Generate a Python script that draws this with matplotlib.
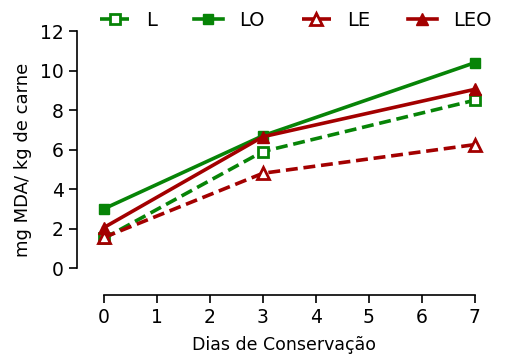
import matplotlib
matplotlib.use('Agg')
import matplotlib.pyplot as plt

days = [0, 3, 7]
l_vals = [1.5, 5.9, 8.5]
lo_vals = [3.0, 6.7, 10.4]
le_vals = [1.55, 4.8, 6.25]
leo_vals = [2.05, 6.65, 9.05]

xticks = [0, 1, 2, 3, 4, 5, 6, 7]
yticks = [0, 2, 4, 6, 8, 10, 12]

green = '#078407'
red = '#a30000'

plt.rcParams['font.family'] = ['DejaVu Sans']
plt.rcParams['font.size'] = 13

fig = plt.figure(figsize=(5.06, 3.59), dpi=100)
ax = fig.add_axes([0.152, 0.178, 0.818, 0.752])

lw = 2.6
ax.plot(days, l_vals, color=green, lw=lw, ls=(0, (3.3, 1.6)), marker='s', ms=7,
        mfc='white', mec=green, mew=2, label='L', clip_on=False)
ax.plot(days, lo_vals, color=green, lw=lw, marker='s', ms=7.5, label='LO', clip_on=False)
ax.plot(days, le_vals, color=red, lw=lw, ls=(0, (3.3, 1.6)), marker='^', ms=8,
        mfc='white', mec=red, mew=2, label='LE', clip_on=False)
ax.plot(days, leo_vals, color=red, lw=lw, marker='^', ms=8.5, label='LEO', clip_on=False)

ax.set_xlim(-0.51, 7.3)
ax.set_ylim(-1.37, 12.3)
ax.set_xticks(xticks)
ax.set_yticks(yticks)

for side in ('top', 'right'):
    ax.spines[side].set_visible(False)
ax.spines['left'].set_bounds(0, 12)
ax.spines['bottom'].set_bounds(0, 7)
ax.spines['left'].set_linewidth(1.2)
ax.spines['bottom'].set_linewidth(1.2)
ax.tick_params(width=1.2, length=6, labelsize=13.5)

ax.set_xlabel('Dias de Conservação', fontsize=12.5, labelpad=6)
ax.set_ylabel('mg MDA/ kg de carne', fontsize=13, labelpad=6)

ax.legend(loc='center left', bbox_to_anchor=(0.056, 1.019), ncol=4, frameon=False,
          handlelength=1.5, columnspacing=1.9, handletextpad=0.85, borderaxespad=0,
          borderpad=0, fontsize=14)

fig.savefig('out.png', dpi=100)
